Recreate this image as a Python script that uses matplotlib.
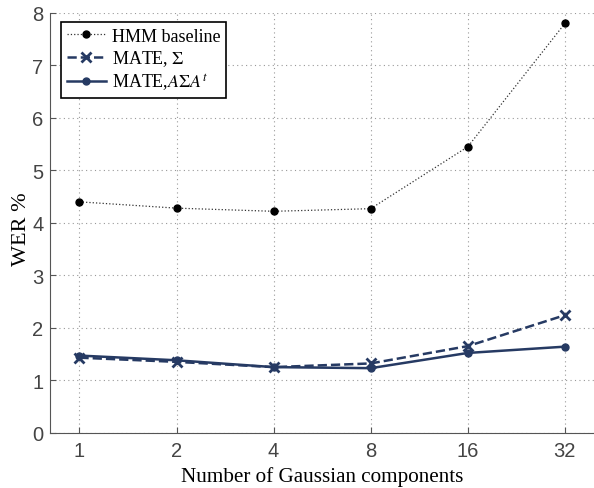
import matplotlib
matplotlib.use("Agg")
import matplotlib.pyplot as plt

components = ["1", "2", "4", "8", "16", "32"]
hmm_baseline = [4.40, 4.28, 4.22, 4.27, 5.45, 7.80]
mate_sigma = [1.43, 1.35, 1.25, 1.32, 1.65, 2.24]
mate_asat = [1.47, 1.38, 1.25, 1.23, 1.52, 1.64]

navy = "#263a63"
plt.rcParams['mathtext.fontset'] = 'stix'

fig = plt.figure(figsize=(5.94, 4.89), dpi=100)
ax = fig.add_axes([0.0847, 0.1131, 0.9153, 0.8583])
x = list(range(len(components)))

ax.plot(x, hmm_baseline, ':', color='#333333', lw=0.9, marker='o', markersize=5,
        markerfacecolor='black', markeredgecolor='black', label='HMM baseline')
ax.plot(x, mate_sigma, '--', color=navy, lw=1.8, marker='x', markersize=7,
        markeredgewidth=2, label=r'MATE, $\Sigma$')
ax.plot(x, mate_asat, '-', color=navy, lw=1.8, marker='o', markersize=5,
        label=r'MATE,$A\Sigma A^t$')

ax.set_xlim(-0.3, 5.3)
ax.set_ylim(0, 8)
ax.set_xticks(x)
ax.set_xticklabels(components)
ax.set_yticks(range(0, 9))
ax.grid(True, linestyle=(0, (1, 3)), color='#999999', lw=0.8)
for s in ['top', 'right']:
    ax.spines[s].set_visible(False)
for s in ['left', 'bottom']:
    ax.spines[s].set_color('#555555')
ax.tick_params(direction='in', length=4, colors='#555555', labelsize=14.5,
               labelcolor='#444444')
for lab in ax.get_xticklabels() + ax.get_yticklabels():
    lab.set_family('Liberation Sans')
ax.tick_params(axis='x', pad=6)
ax.tick_params(axis='y', pad=5)

ax.set_xlabel('Number of Gaussian components', family='Liberation Serif', fontsize=15.2)
ax.xaxis.set_label_coords(0.5, -0.079)
ax.set_ylabel('WER %', family='Liberation Serif', fontsize=16)
ax.yaxis.set_label_coords(-0.036, 0.487)

leg = ax.legend(loc='upper left', bbox_to_anchor=(0.02, 0.978), borderaxespad=0,
                fancybox=False, edgecolor='black', framealpha=1, borderpad=0.3,
                labelspacing=0.2, handlelength=2.2, handletextpad=0.3,
                prop={'family': 'Liberation Serif', 'size': 13})
leg.get_frame().set_linewidth(1.2)

fig.savefig('out.png', dpi=100)
